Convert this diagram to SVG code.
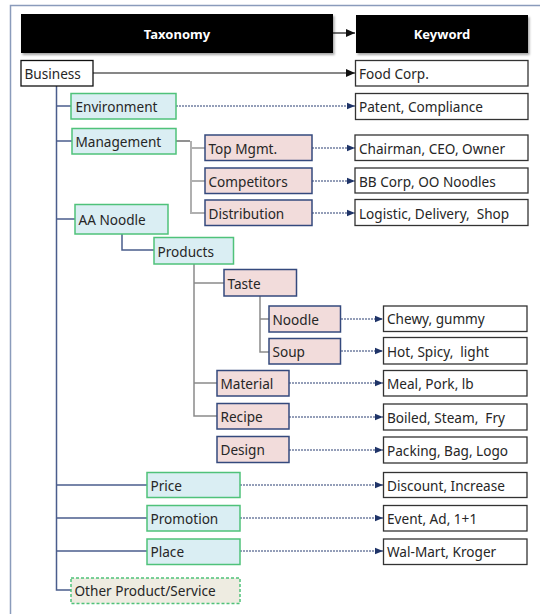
<svg xmlns="http://www.w3.org/2000/svg" width="540" height="614" viewBox="0 0 540 614">
<defs>
<style>
text{font-family:"Noto Sans","Open Sans","DejaVu Sans",sans-serif;font-size:13.6px;fill:#262626;dominant-baseline:central;white-space:pre}
.hd{fill:#000}
.hdt{fill:#fff;font-weight:bold;text-anchor:middle;font-size:13px}
.kw{fill:#fff;stroke:#333;stroke-width:1.3}
.l1{fill:#daeef3;stroke:#4fc27a;stroke-width:1.5}
.l2{fill:#f2dcdb;stroke:#34497d;stroke-width:1.5}
.oth{fill:#eeece1;stroke:#4fc27a;stroke-width:1.5;stroke-dasharray:3 2}
.biz{fill:#fff;stroke:#111;stroke-width:1.3}
.trunk{fill:none;stroke:#4a5d8c;stroke-width:1.5}
.gray{fill:none;stroke:#8a8a8a;stroke-width:1.5}
.lgray{fill:none;stroke:#b0b0b0;stroke-width:2}
.dash{fill:none;stroke:#2a3f73;stroke-width:1.2;stroke-dasharray:2 1;marker-end:url(#ah)}
.solid{fill:none;stroke:#111;stroke-width:1.2;marker-end:url(#ahk)}
</style>
<marker id="ah" markerWidth="8" markerHeight="8" refX="8" refY="4" orient="auto" markerUnits="userSpaceOnUse"><path d="M0,0.8 L8,4 L0,7.2 Z" fill="#1f3468"/></marker>
<marker id="ahk" markerWidth="9" markerHeight="9" refX="9" refY="4.5" orient="auto" markerUnits="userSpaceOnUse"><path d="M0,0.5 L9,4.5 L0,8.5 Z" fill="#111"/></marker>
<filter id="sh" x="-10%" y="-20%" width="120%" height="150%"><feDropShadow dx="1.5" dy="2" stdDeviation="1.2" flood-color="#000" flood-opacity="0.35"/></filter>
</defs>

<g id="frame"><path d="M540,5.5 H10.5 V614" fill="none" stroke="#8a9bbb" stroke-width="1.5"/></g>

<g id="connectors">
<path class="solid" d="M333,33 H355"/>
<path class="solid" d="M93,73 H355"/>
<path class="trunk" d="M56.5,86 V590 H71"/>
<path class="trunk" d="M56.5,106 H71"/>
<path class="trunk" d="M56.5,141 H72"/>
<path class="trunk" d="M56.5,219 H75"/>
<path class="trunk" d="M56.5,485 H147"/>
<path class="trunk" d="M56.5,518 H147"/>
<path class="trunk" d="M56.5,551 H147"/>
<path class="trunk" d="M122,234 V250 H154"/>
<path d="M176,141 H190" fill="none" stroke="#555" stroke-width="1.3"/>
<path class="lgray" d="M191,141 V213 H205 M191,148 H205 M191,181 H205"/>
<path class="gray" d="M194,264 V416 H217 M194,283 H224 M194,383 H217"/>
<path class="gray" d="M260,296 V352 H269 M260,319 H269"/>
<path class="dash" d="M176,106 H355"/>
<path class="dash" d="M312,148 H355"/>
<path class="dash" d="M312,181 H355"/>
<path class="dash" d="M312,213 H355"/>
<path class="dash" d="M341,319 H383"/>
<path class="dash" d="M341,351 H383"/>
<path class="dash" d="M289,383 H383"/>
<path class="dash" d="M289,417 H383"/>
<path class="dash" d="M289,450 H383"/>
<path class="dash" d="M240,485 H383"/>
<path class="dash" d="M240,518 H383"/>
<path class="dash" d="M240,551 H383"/>
</g>

<g id="taxonomy"><rect class="hd" x="21" y="14" width="312" height="39" filter="url(#sh)"/><text class="hdt" x="177" y="33.5">Taxonomy</text></g>
<g id="keyword"><rect class="hd" x="356" y="15" width="172" height="38" filter="url(#sh)"/><text class="hdt" x="442" y="34">Keyword</text></g>

<g id="business"><rect class="biz" x="21" y="60.5" width="72" height="25.5"/><text x="24.5" y="73.5">Business</text></g>
<g id="kw-foodcorp"><rect class="kw" x="355.5" y="60.5" width="172.5" height="25.5"/><text x="359" y="73.5">Food Corp.</text></g>

<g id="environment"><rect class="l1" x="71" y="93.5" width="105" height="25.5"/><text x="75.5" y="106.5">Environment</text></g>
<g id="kw-patent"><rect class="kw" x="355.5" y="93.5" width="172.5" height="26"/><text x="359" y="106.5">Patent, Compliance</text></g>

<g id="management"><rect class="l1" x="72" y="128.5" width="104" height="25.5"/><text x="75.5" y="141">Management</text></g>
<g id="topmgmt"><rect class="l2" x="205" y="135" width="107" height="25.5"/><text x="208.5" y="148">Top Mgmt.</text></g>
<g id="competitors"><rect class="l2" x="205" y="168" width="107" height="25.5"/><text x="208.5" y="181">Competitors</text></g>
<g id="distribution"><rect class="l2" x="205" y="200" width="107" height="25.5"/><text x="208.5" y="213">Distribution</text></g>
<g id="kw-chairman"><rect class="kw" x="355" y="135" width="173" height="25.5"/><text x="359" y="148">Chairman, CEO, Owner</text></g>
<g id="kw-bbcorp"><rect class="kw" x="355" y="168" width="173" height="25"/><text x="359" y="181">BB Corp, OO Noodles</text></g>
<g id="kw-logistic"><rect class="kw" x="355" y="199.5" width="173" height="26"/><text x="359" y="213">Logistic, Delivery,  Shop</text></g>

<g id="aanoodle"><rect class="l1" x="75" y="204.5" width="93" height="29.5"/><text x="78.5" y="219.5">AA Noodle</text></g>
<g id="products"><rect class="l1" x="154" y="237.5" width="79.5" height="26.5"/><text x="157.5" y="251">Products</text></g>

<g id="taste"><rect class="l2" x="224" y="269.5" width="72.5" height="26.5"/><text x="227.5" y="283">Taste</text></g>
<g id="noodle"><rect class="l2" x="269" y="306" width="71.5" height="26"/><text x="272.5" y="319">Noodle</text></g>
<g id="soup"><rect class="l2" x="269" y="338.5" width="71.5" height="25.5"/><text x="272.5" y="351.5">Soup</text></g>
<g id="kw-chewy"><rect class="kw" x="383.5" y="306" width="143.5" height="25.5"/><text x="387" y="318.5">Chewy, gummy</text></g>
<g id="kw-hot"><rect class="kw" x="383.5" y="337.5" width="143.5" height="26.5"/><text x="387" y="351">Hot, Spicy,  light</text></g>

<g id="material"><rect class="l2" x="217" y="370.5" width="72" height="25.5"/><text x="220.5" y="383.5">Material</text></g>
<g id="recipe"><rect class="l2" x="217" y="403.5" width="72" height="25.5"/><text x="220.5" y="416.5">Recipe</text></g>
<g id="design"><rect class="l2" x="217" y="436.5" width="72" height="26"/><text x="220.5" y="449.5">Design</text></g>
<g id="kw-meal"><rect class="kw" x="383.5" y="370.5" width="143.5" height="25.5"/><text x="387" y="383.5">Meal, Pork, lb</text></g>
<g id="kw-boiled"><rect class="kw" x="383.5" y="404" width="143.5" height="26"/><text x="387" y="417">Boiled, Steam,  Fry</text></g>
<g id="kw-packing"><rect class="kw" x="383.5" y="437" width="143.5" height="26"/><text x="387" y="450">Packing, Bag, Logo</text></g>

<g id="price"><rect class="l1" x="147" y="472.5" width="93" height="25"/><text x="150.5" y="485">Price</text></g>
<g id="promotion"><rect class="l1" x="147" y="505.5" width="93" height="25.5"/><text x="150.5" y="518">Promotion</text></g>
<g id="place"><rect class="l1" x="147" y="539" width="93" height="25.5"/><text x="150.5" y="551.5">Place</text></g>
<g id="kw-discount"><rect class="kw" x="383.5" y="472.5" width="143.5" height="25"/><text x="387" y="485">Discount, Increase</text></g>
<g id="kw-event"><rect class="kw" x="383.5" y="505.5" width="143.5" height="25.5"/><text x="387" y="518">Event, Ad, 1+1</text></g>
<g id="kw-walmart"><rect class="kw" x="383.5" y="539" width="143.5" height="25.5"/><text x="387" y="551.5">Wal-Mart, Kroger</text></g>

<g id="other"><rect class="oth" x="71" y="578" width="169" height="25.5"/><text x="74.5" y="590.5">Other Product/Service</text></g>
</svg>
